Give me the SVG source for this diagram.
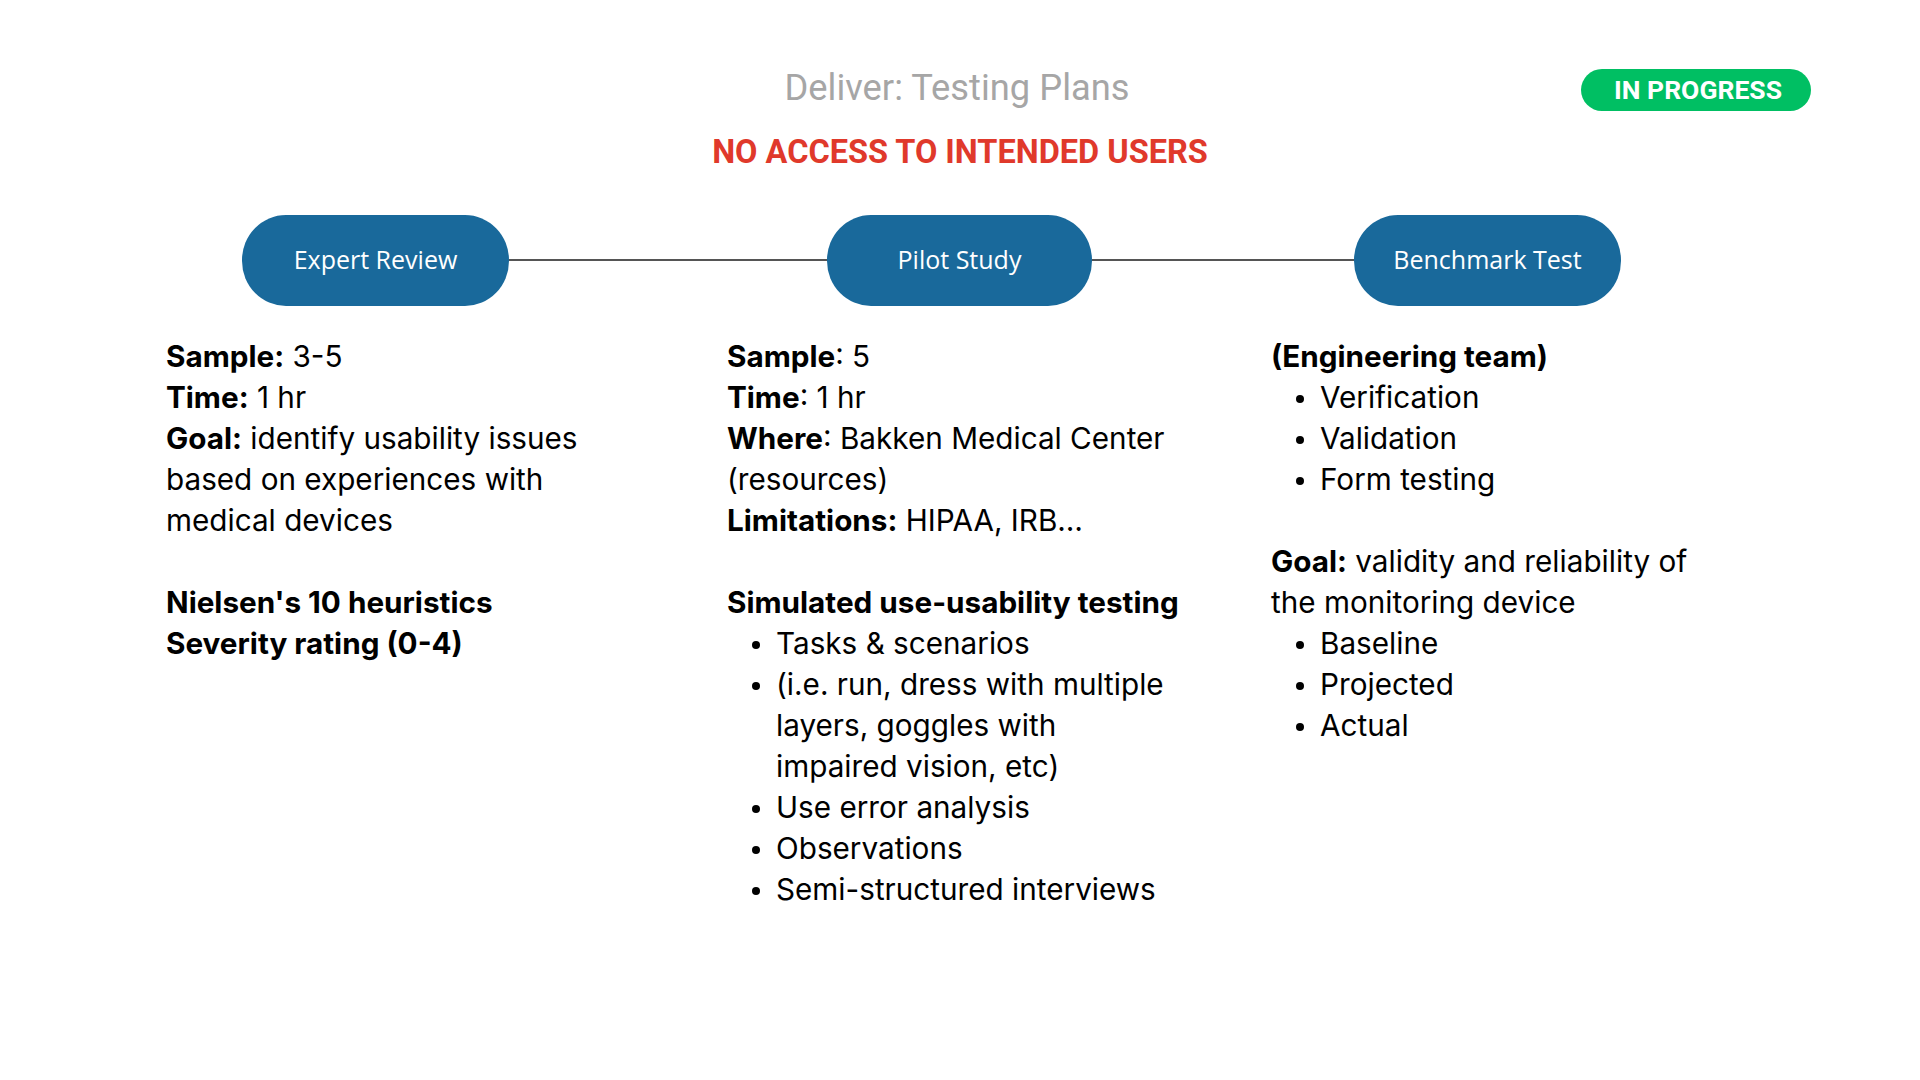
<svg xmlns="http://www.w3.org/2000/svg" width="1920" height="1080" viewBox="0 0 1920 1080">
<style>
.node{fill:#19699b}
.nlabel{font-family:"Open Sans","Liberation Sans",sans-serif;font-size:25px;fill:#ffffff;text-anchor:middle}
.body{font-family:Inter,Lato,"Liberation Sans",sans-serif;font-size:29.7px;fill:#000000}
.b{font-weight:bold}
.conn{stroke:#555555;stroke-width:2;fill:none}
</style>
<rect width="1920" height="1080" fill="#ffffff"/>
<text x="957" y="100" font-family="Roboto,'Liberation Sans',sans-serif" font-size="36.3" fill="#a6a6a6" text-anchor="middle">Deliver: Testing Plans</text>
<text x="960" y="163" font-family="Roboto,'Liberation Sans',sans-serif" font-size="32.5" font-weight="bold" fill="#e0392b" text-anchor="middle">NO ACCESS TO INTENDED USERS</text>
<g id="status">
<rect x="1581" y="69" width="230" height="42" rx="21" fill="#00bf63"/>
<text x="1698" y="99" font-family="Roboto,'Liberation Sans',sans-serif" font-size="26.5" font-weight="bold" fill="#ffffff" text-anchor="middle">IN PROGRESS</text>
</g>
<g id="connectors">
<line class="conn" x1="509" y1="260" x2="827" y2="260"/>
<line class="conn" x1="1092" y1="260" x2="1354" y2="260"/>
</g>
<g id="expert-review">
<rect class="node" x="242" y="215" width="267" height="91" rx="44" ry="45"/>
<text class="nlabel" x="375.5" y="269">Expert Review</text>
</g>
<g id="pilot-study">
<rect class="node" x="827" y="215" width="265" height="91" rx="44" ry="45"/>
<text class="nlabel" x="959.5" y="269">Pilot Study</text>
</g>
<g id="benchmark-test">
<rect class="node" x="1354" y="215" width="267" height="91" rx="44" ry="45"/>
<text class="nlabel" x="1487.5" y="269">Benchmark Test</text>
</g>
<g id="expert-notes" class="body">
<text x="166" y="367"><tspan class="b">Sample:</tspan> 3-5</text>
<text x="166" y="408"><tspan class="b">Time:</tspan> 1 hr</text>
<text x="166" y="449"><tspan class="b">Goal:</tspan> identify usability issues</text>
<text x="166" y="490">based on experiences with</text>
<text x="166" y="531">medical devices</text>
<text x="166" y="613" class="b">Nielsen's 10 heuristics</text>
<text x="166" y="654" class="b">Severity rating (0-4)</text>
</g>
<g id="pilot-notes" class="body">
<text x="727" y="367"><tspan class="b">Sample</tspan>: 5</text>
<text x="727" y="408"><tspan class="b">Time</tspan>: 1 hr</text>
<text x="727" y="449"><tspan class="b">Where</tspan>: Bakken Medical Center</text>
<text x="727" y="490">(resources)</text>
<text x="727" y="531"><tspan class="b">Limitations:</tspan> HIPAA, IRB…</text>
<text x="727" y="613" class="b">Simulated use-usability testing</text>
<circle cx="756" cy="645" r="4"/>
<text x="776" y="654">Tasks &amp; scenarios</text>
<circle cx="756" cy="686" r="4"/>
<text x="776" y="695">(i.e. run, dress with multiple</text>
<text x="776" y="736">layers, goggles with</text>
<text x="776" y="777">impaired vision, etc)</text>
<circle cx="756" cy="809" r="4"/>
<text x="776" y="818">Use error analysis</text>
<circle cx="756" cy="850" r="4"/>
<text x="776" y="859">Observations</text>
<circle cx="756" cy="891" r="4"/>
<text x="776" y="900">Semi-structured interviews</text>
</g>
<g id="benchmark-notes" class="body">
<text x="1271" y="367" class="b">(Engineering team)</text>
<circle cx="1300" cy="399" r="4"/>
<text x="1320" y="408">Verification</text>
<circle cx="1300" cy="440" r="4"/>
<text x="1320" y="449">Validation</text>
<circle cx="1300" cy="481" r="4"/>
<text x="1320" y="490">Form testing</text>
<text x="1271" y="572"><tspan class="b">Goal:</tspan> validity and reliability of</text>
<text x="1271" y="613">the monitoring device</text>
<circle cx="1300" cy="645" r="4"/>
<text x="1320" y="654">Baseline</text>
<circle cx="1300" cy="686" r="4"/>
<text x="1320" y="695">Projected</text>
<circle cx="1300" cy="727" r="4"/>
<text x="1320" y="736">Actual</text>
</g>
</svg>
